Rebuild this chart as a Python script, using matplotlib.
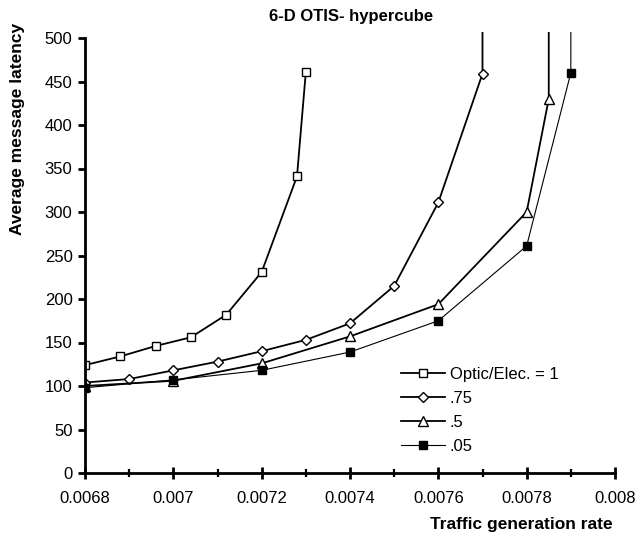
import matplotlib
matplotlib.use("Agg")
import matplotlib.pyplot as plt

plt.rcParams['font.family'] = ['Liberation Sans', 'DejaVu Sans']

# Optic/Elec. = 1 (open squares)
x_r1 = [0.0068, 0.00688, 0.00696, 0.00704, 0.00712, 0.0072, 0.00728, 0.0073]
y_r1 = [124, 134, 146, 156, 182, 231, 341, 461]

# .75 (open diamonds); last value runs off the top of the scale
x_r75 = [0.0068, 0.0069, 0.0070, 0.0071, 0.0072, 0.0073, 0.0074, 0.0075, 0.0076, 0.0077, 0.0077]
y_r75 = [104, 108, 118, 128, 140, 153, 172, 215, 311, 459, 700]

# .5 (open triangles)
x_r5 = [0.0068, 0.0070, 0.0072, 0.0074, 0.0076, 0.0078, 0.00785, 0.00785]
y_r5 = [100, 106, 126, 157, 194, 300, 430, 700]

# .05 (filled squares)
x_r05 = [0.0068, 0.0070, 0.0072, 0.0074, 0.0076, 0.0078, 0.0079, 0.0079]
y_r05 = [98, 107, 118, 139, 175, 261, 460, 700]

labels = ['Optic/Elec. = 1', '.75', '.5', '.05']
x_ticks = [0.0068, 0.007, 0.0072, 0.0074, 0.0076, 0.0078, 0.008]
x_tick_labels = ['0.0068', '0.007', '0.0072', '0.0074', '0.0076', '0.0078', '0.008']
y_ticks = list(range(0, 501, 50))

W, H = 640, 537
fig = plt.figure(figsize=(W / 100, H / 100), dpi=100)
ax = fig.add_axes([85 / W, 1 - 473 / H, 530 / W, (473 - 32) / H])

ax.plot(x_r1, y_r1, color='black', lw=1.3, marker='s', ms=5.5,
        mfc='white', mec='black', mew=1.0, label=labels[0])
ax.plot(x_r75, y_r75, color='black', lw=1.3, marker='D', ms=5,
        mfc='white', mec='black', mew=1.0, label=labels[1])
ax.plot(x_r5, y_r5, color='black', lw=1.3, marker='^', ms=7,
        mfc='white', mec='black', mew=1.0, label=labels[2])
ax.plot(x_r05, y_r05, color='black', lw=0.8, marker='s', ms=5.5,
        mfc='black', mec='black', label=labels[3])

ax.set_xlim(0.0068, 0.008)
ax.set_ylim(0, 500 * (473 - 32) / (473 - 38))

for s in ['top', 'right']:
    ax.spines[s].set_visible(False)
for s in ['left', 'bottom']:
    ax.spines[s].set_linewidth(2)
ax.spines['left'].set_bounds(0, 500)

ax.set_xticks(x_ticks)
ax.set_xticklabels(x_tick_labels)
ax.set_xticks([0.0069, 0.0071, 0.0073, 0.0075, 0.0077, 0.0079], minor=True)
ax.set_yticks(y_ticks)
ax.tick_params(axis='x', which='major', direction='inout', length=8, width=2,
               labelsize=12, pad=9)
ax.tick_params(axis='x', which='minor', direction='inout', length=6, width=1.6)
ax.tick_params(axis='y', which='major', direction='out', length=5, width=2,
               labelsize=12, pad=4)

leg = ax.legend(loc='upper left', bbox_to_anchor=((394 - 85) / 530, (473 - 360) / (473 - 32)),
                frameon=False, fontsize=12, handlelength=2.65, handletextpad=0.3,
                labelspacing=0.55, borderaxespad=0)

fig.text(351 / W, 1 - 17 / H, '6-D OTIS- hypercube', ha='center', va='center',
         fontsize=12, fontweight='bold')
fig.text(18 / W, 1 - 129 / H, 'Average message latency', ha='center', va='center',
         rotation=90, fontsize=12.5, fontweight='bold')
fig.text(521 / W, 1 - 525 / H, 'Traffic generation rate', ha='center', va='center',
         fontsize=12.5, fontweight='bold')

fig.savefig('out.png', dpi=100)
